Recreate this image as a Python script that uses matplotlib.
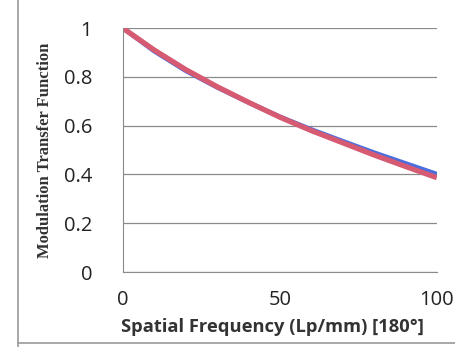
import matplotlib.pyplot as plt
from matplotlib.lines import Line2D

freq = [0, 10, 20, 30, 40, 50, 60, 70, 80, 90, 100]
mtf_blue = [1.0, 0.905, 0.825, 0.757, 0.695, 0.637, 0.585, 0.537, 0.490, 0.446, 0.402]
mtf_red = [1.0, 0.910, 0.830, 0.760, 0.696, 0.635, 0.580, 0.530, 0.480, 0.433, 0.387]
xticks = [0, 50, 100]
yticks = [0, 0.2, 0.4, 0.6, 0.8, 1]
ytick_labels = ["0", "0.2", "0.4", "0.6", "0.8", "1"]

fig = plt.figure(figsize=(4.55, 3.47), dpi=100)
ax = fig.add_axes([0.270, 0.216, 0.690, 0.703])

ax.plot(freq, mtf_blue, color="#4a6ee0", lw=3.2, solid_capstyle="butt")
ax.plot(freq, mtf_red, color="#d65a72", lw=3.8, solid_capstyle="butt")

ax.set_xlim(0, 100)
ax.set_ylim(0, 1)
ax.set_xticks(xticks)
ax.set_yticks(yticks)
ax.set_yticklabels(ytick_labels)
ax.tick_params(length=0, labelsize=14.5, colors="#222222")
ax.tick_params(axis="y", pad=22)
ax.tick_params(axis="x", pad=13)
for lab in ax.get_xticklabels() + ax.get_yticklabels():
    lab.set_family("Open Sans")

ax.grid(axis="y", color="#8a8a8a", lw=0.9)
for s in ["top", "right"]:
    ax.spines[s].set_visible(False)
ax.spines["left"].set_color("#8a8a8a")
ax.spines["bottom"].set_color("#8a8a8a")

ax.set_xlabel("Spatial Frequency (Lp/mm) [180°]", family="Open Sans",
              fontweight="bold", fontsize=13.2, color="#333333")
ax.xaxis.set_label_coords(0.475, -0.19)
ax.set_ylabel("Modulation Transfer Function", family="Liberation Serif",
              fontweight="bold", fontsize=12, color="#333333")
ax.yaxis.set_label_coords(-70 / 314, 0.5)

# scanned frame edges
fig.add_artist(Line2D([18 / 455, 18 / 455], [0.0, 1.0], color="#9a9a9a", lw=1.2))
fig.add_artist(Line2D([18 / 455, 1.0], [4 / 347, 4 / 347], color="#9a9a9a", lw=1.2))

fig.savefig("out.png", dpi=100, facecolor="white")
